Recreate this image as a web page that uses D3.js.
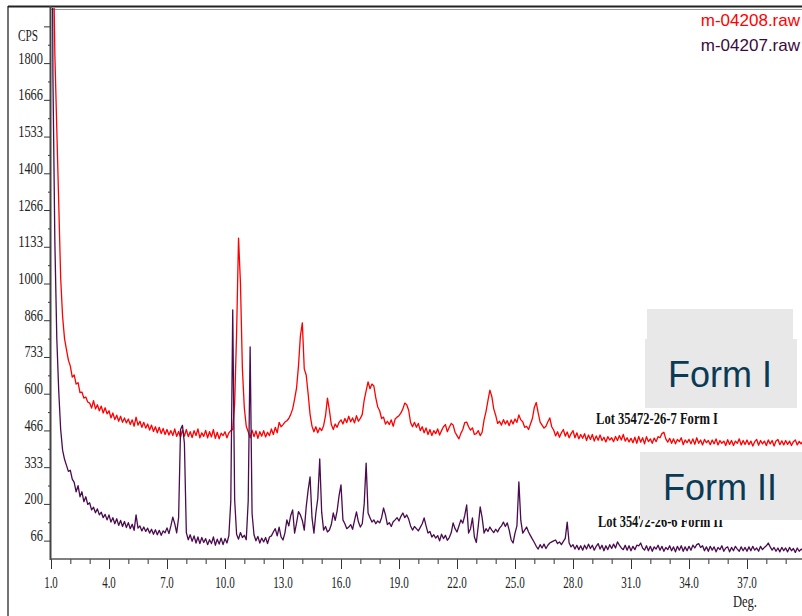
<!DOCTYPE html>
<html>
<head>
<meta charset="utf-8">
<script src="https://cdn.jsdelivr.net/npm/d3@7"></script>
<style>
  body { margin: 0; background: #fff; }
  svg { display: block; }
</style>
</head>
<body>
<svg id="chart" width="802" height="616"></svg>
<script>
// 2-theta grid: 1.0 to 40.0 deg, step 0.1
const degStart = 1.0;
const degStep = 0.1;

// m-04208.raw  (Lot 35472-26-7 Form I), CPS
const formI = [
  4000, 2300, 1830, 1560, 1290, 1020, 880, 800, 760, 722,
  700, 660, 668, 635, 640, 604, 606, 584, 588, 570,
  566, 548, 575, 545, 560, 538, 555, 530, 549, 527,
  538, 512, 530, 506, 522, 500, 518, 496, 512, 494,
  508, 488, 505, 482, 515, 486, 500, 478, 496, 475,
  490, 468, 486, 463, 480, 458, 478, 455, 474, 452,
  470, 450, 466, 448, 472, 445, 463, 442, 468, 446,
  470, 444, 462, 441, 466, 448, 472, 440, 458, 445,
  467, 440, 462, 443, 470, 438, 460, 436, 457, 448,
  462, 440, 458, 466, 470, 565, 820, 1165, 1000, 690,
  548, 482, 462, 440, 468, 444, 465, 438, 462, 446,
  466, 443, 460, 448, 472, 452, 478, 458, 496, 480,
  488, 497, 502, 510, 525, 545, 580, 620, 700, 810,
  857, 690, 668, 600, 525, 482, 462, 480, 458, 476,
  466, 484, 520, 584, 540, 488, 470, 490, 478, 496,
  505, 490, 510, 495, 518, 498, 512, 494, 520, 500,
  510, 525, 577, 610, 643, 618, 635, 628, 585, 552,
  538, 510, 515, 490, 500, 488, 505, 482, 508, 515,
  520, 530, 545, 566, 560, 540, 495, 480, 496, 478,
  492, 466, 480, 458, 476, 452, 470, 448, 466, 455,
  472, 450, 466, 480, 488, 462, 478, 492, 486, 460,
  448, 436, 456, 470, 495, 497, 480, 468, 476, 452,
  455, 466, 448, 460, 505, 535, 575, 613, 590, 545,
  522, 492, 500, 486, 506, 490, 502, 484, 505, 490,
  508, 496, 523, 505, 498, 478, 482, 470, 490, 510,
  550, 568, 530, 497, 486, 475, 482, 498, 512, 480,
  468, 447, 462, 442, 458, 470, 446, 461, 440, 455,
  466, 440, 458, 436, 452, 438, 455, 430, 450, 434,
  452, 428, 447, 431, 450, 430, 442, 425, 444, 432,
  440, 426, 445, 430, 448, 432, 452, 428, 440, 425,
  438, 422, 442, 420, 445, 424, 440, 418, 444, 426,
  436, 420, 439, 426, 444, 440, 455, 460, 436, 424,
  438, 420, 436, 418, 434, 426, 440, 415, 432, 422,
  434, 418, 436, 416, 440, 420, 432, 414, 434, 422,
  430, 415, 432, 418, 436, 414, 430, 420, 428, 412,
  433, 416, 430, 412, 428, 420, 436, 414, 430, 416,
  432, 415, 428, 410, 426, 434, 413, 430, 418, 428,
  412, 432, 418, 430, 410, 428, 434, 415, 429, 414,
  430, 416, 428, 412, 426, 432, 414, 427, 418, 429,
  420
];

// m-04207.raw  (Lot 35472-26-6 Form II), CPS
const formII = [
  3500, 1750, 1150, 800, 610, 470, 395, 362, 340, 318,
  322, 290, 278, 244, 266, 226, 244, 208, 226, 198,
  204, 178, 188, 168, 182, 160, 170, 150, 162, 142,
  160, 134, 150, 128, 146, 122, 140, 118, 136, 114,
  132, 110, 126, 104, 160, 112, 120, 102, 116, 100,
  112, 94, 108, 90, 106, 88, 104, 86, 102, 95,
  113, 92, 120, 152, 128, 95, 150, 470, 485, 420,
  96, 70, 88, 64, 84, 58, 80, 56, 78, 60,
  74, 52, 70, 56, 80, 50, 72, 54, 76, 52,
  74, 58, 85, 210, 904, 214, 90, 72, 96, 78,
  86, 70, 210, 770, 165, 88, 66, 82, 58, 76,
  62, 78, 56, 80, 84, 98, 110, 84, 116, 80,
  69, 95, 142, 120, 158, 178, 94, 130, 172, 160,
  140, 105, 189, 250, 298, 150, 94, 167, 220, 363,
  170, 105, 118, 98, 105, 125, 167, 140, 175, 230,
  269, 142, 128, 110, 116, 125, 108, 140, 171, 135,
  116, 128, 200, 348, 167, 150, 134, 142, 128, 138,
  131, 150, 185, 160, 125, 132, 118, 135, 142, 150,
  138, 155, 167, 150, 160, 145, 120, 105, 118, 110,
  102, 115, 128, 149, 120, 94, 100, 80, 88, 76,
  85, 66, 90, 74, 86, 68, 78, 95, 131, 110,
  98, 120, 142, 130, 158, 196, 94, 110, 149, 80,
  60, 120, 189, 150, 94, 110, 100, 116, 105, 96,
  108, 98, 112, 120, 134, 118, 131, 105, 70, 58,
  94, 120, 280, 140, 94, 105, 116, 98, 85, 72,
  60, 46, 36, 52, 40, 54, 38, 50, 58, 62,
  66, 69, 56, 62, 52, 64, 75, 134, 58, 44,
  52, 36, 50, 34, 48, 32, 50, 36, 54, 38,
  50, 32, 46, 56, 36, 50, 30, 48, 34, 52,
  38, 54, 40, 62, 50, 40, 34, 50, 32, 48,
  30, 46, 34, 50, 48, 58, 40, 32, 48, 30,
  46, 28, 44, 36, 50, 32, 46, 28, 42, 34,
  48, 30, 44, 26, 46, 32, 48, 28, 44, 30,
  46, 32, 50, 40, 52, 56, 42, 48, 30, 44,
  28, 46, 32, 44, 26, 42, 34, 48, 28, 40,
  44, 26, 42, 30, 46, 36, 28, 44, 30, 42,
  28, 44, 30, 46, 32, 40, 28, 46, 34, 42,
  48, 58, 44, 32, 42, 28, 40, 26, 42, 30,
  40, 26, 42, 30, 38, 24, 40, 28, 36, 30,
  32
];

const xMajorTicks = [1, 4, 7, 10, 13, 16, 19, 22, 25, 28, 31, 34, 37];
const yMajorTicks = [66.67, 200, 333.33, 466.67, 600, 733.33, 866.67, 1000, 1133.33, 1266.67, 1400, 1533.33, 1666.67, 1800, 1933.33];
const yTickLabels = ["66", "200", "333", "466", "600", "733", "866", "1000", "1133", "1266", "1400", "1533", "1666", "1800"];
const seriesNames = ["m-04208.raw", "m-04207.raw"];
const lotLabels = ["Lot 35472-26-7 Form I", "Lot 35472-26-6 Form II"];
const formLabels = ["Form I", "Form II"];

const red = "#ff0000";
const purple = "#4a0c4e";

const svg = d3.select("#chart");
const x = d3.scaleLinear().domain([1, 40]).range([51, 805]);
const y = d3.scaleLinear().domain([0, 2000]).range([559, 8]);

// outer frame
svg.append("line").attr("x1", 8).attr("x2", 8).attr("y1", 6).attr("y2", 616)
  .attr("stroke", "#444").attr("stroke-width", 1.5);
svg.append("line").attr("x1", 8).attr("x2", 802).attr("y1", 6.5).attr("y2", 6.5)
  .attr("stroke", "#222").attr("stroke-width", 2);
svg.append("line").attr("x1", 51).attr("x2", 802).attr("y1", 9.5).attr("y2", 9.5)
  .attr("stroke", "#999").attr("stroke-width", 1);

svg.append("clipPath").attr("id", "plotClip")
  .append("rect").attr("x", 51).attr("y", 8).attr("width", 751).attr("height", 551);

// y axis (ticks every 66.67 cps, labels on alternate ones)
const yAxis = d3.axisLeft(y)
  .tickValues(d3.range(1, 30).map(k => k * 2000 / 30))
  .tickSize(3).tickFormat("");
const yG = svg.append("g").attr("transform", "translate(51,0)").call(yAxis);
yG.select(".domain").remove();
yG.selectAll(".tick line").attr("stroke", "#333")
  .attr("x2", (d, i) => i % 2 === 0 ? -7 : -3);
svg.append("line").attr("x1", 50.5).attr("x2", 50.5).attr("y1", 6).attr("y2", 560)
  .attr("stroke", "#444").attr("stroke-width", 2);

svg.append("g").selectAll("text")
  .data(yTickLabels)
  .join("text")
  .attr("x", 43)
  .attr("y", (d, i) => y(yMajorTicks[i]) + 0.5)
  .attr("text-anchor", "end")
  .attr("font-family", "Liberation Serif, Times New Roman, serif")
  .attr("font-size", 16)
  .attr("fill", "#222")
  .attr("textLength", d => d.length * 6.2)
  .attr("lengthAdjust", "spacingAndGlyphs")
  .text(d => d);

svg.append("text").attr("x", 38).attr("y", 41).attr("text-anchor", "end")
  .attr("font-family", "Liberation Serif, Times New Roman, serif")
  .attr("font-size", 16).attr("fill", "#222")
  .attr("textLength", 20).attr("lengthAdjust", "spacingAndGlyphs")
  .text("CPS");

// x axis
const xAxis = d3.axisBottom(x)
  .tickValues(d3.range(1, 41, 1))
  .tickSize(5).tickFormat("");
const xG = svg.append("g").attr("transform", "translate(0,559)").call(xAxis);
xG.select(".domain").remove();
xG.selectAll(".tick line").attr("stroke", "#333")
  .attr("y2", d => (d - 1) % 3 === 0 ? 10 : 5);
svg.append("line").attr("x1", 50).attr("x2", 802).attr("y1", 559).attr("y2", 559)
  .attr("stroke", "#555").attr("stroke-width", 1.5);

svg.append("g").selectAll("text")
  .data(xMajorTicks)
  .join("text")
  .attr("x", d => x(d))
  .attr("y", 588)
  .attr("text-anchor", "middle")
  .attr("font-family", "Liberation Serif, Times New Roman, serif")
  .attr("font-size", 16)
  .attr("fill", "#222")
  .attr("textLength", d => d.toFixed(1).replace(".", "").length * 5.8 + 2)
  .attr("lengthAdjust", "spacingAndGlyphs")
  .text(d => d.toFixed(1));

svg.append("text").attr("x", 745).attr("y", 607).attr("text-anchor", "middle")
  .attr("font-family", "Liberation Serif, Times New Roman, serif")
  .attr("font-size", 16).attr("fill", "#222")
  .attr("textLength", 24).attr("lengthAdjust", "spacingAndGlyphs")
  .text("Deg.");

// patterns
const line = d3.line()
  .x((d, i) => x(degStart + i * degStep))
  .y(d => y(d));

const plot = svg.append("g").attr("clip-path", "url(#plotClip)");
plot.append("path").datum(formI)
  .attr("d", line).attr("fill", "none")
  .attr("stroke", red).attr("stroke-width", 1.3).attr("stroke-linejoin", "round");
plot.append("path").datum(formII)
  .attr("d", line).attr("fill", "none")
  .attr("stroke", purple).attr("stroke-width", 1.3).attr("stroke-linejoin", "round");

// legend
svg.append("g").selectAll("text")
  .data(seriesNames)
  .join("text")
  .attr("x", 800)
  .attr("y", (d, i) => 26 + i * 25)
  .attr("text-anchor", "end")
  .attr("font-family", "Liberation Sans Narrow, Arial Narrow, Liberation Sans, sans-serif")
  .attr("font-size", 17)
  .attr("fill", (d, i) => i === 0 ? red : "#3c0a40")
  .text(d => d);

// lot annotations
const lotPos = [[596, 424, 122], [598, 527, 125]];
svg.append("g").selectAll("text")
  .data(lotLabels)
  .join("text")
  .attr("x", (d, i) => lotPos[i][0])
  .attr("y", (d, i) => lotPos[i][1])
  .attr("font-family", "Liberation Serif, Times New Roman, serif")
  .attr("font-weight", "bold")
  .attr("font-size", 17)
  .attr("fill", "#111")
  .attr("textLength", (d, i) => lotPos[i][2])
  .attr("lengthAdjust", "spacingAndGlyphs")
  .text(d => d);

// overlay boxes
const boxFill = "#e8e8e8";
svg.append("rect").attr("x", 647).attr("y", 309).attr("width", 146).attr("height", 31).attr("fill", boxFill);
svg.append("rect").attr("x", 645).attr("y", 339).attr("width", 152).attr("height", 69).attr("fill", boxFill);
svg.append("rect").attr("x", 640).attr("y", 452).attr("width", 162).attr("height", 68).attr("fill", boxFill);

svg.append("g").selectAll("text")
  .data(formLabels)
  .join("text")
  .attr("x", 720)
  .attr("y", (d, i) => i === 0 ? 387 : 500)
  .attr("text-anchor", "middle")
  .attr("font-family", "Liberation Sans, Arial, sans-serif")
  .attr("font-size", 36)
  .attr("fill", "#0b3a55")
  .text(d => d);
</script>
</body>
</html>
